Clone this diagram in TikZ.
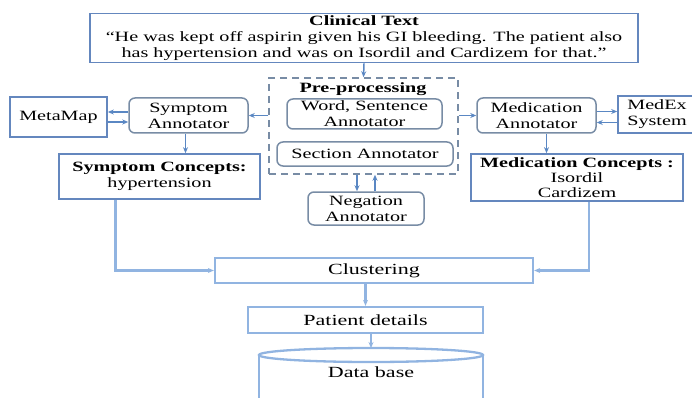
\documentclass[tikz,border=0pt]{standalone}
\usepackage{fontspec}
\setmainfont{Liberation Serif}[FakeStretch=1.42]
\usepackage{xcolor}
\definecolor{steel}{RGB}{100,135,190}
\definecolor{lightsteel}{RGB}{145,180,225}
\definecolor{slate}{RGB}{120,140,165}
\definecolor{arrowblue}{RGB}{90,135,195}
\usepackage{tikz}
\usetikzlibrary{arrows.meta, positioning}

\begin{document}
\begin{tikzpicture}[
    x=1pt, y=-1pt,
    txt/.style={font=\fontsize{14.2}{16.2}\selectfont},
    box/.style={
        rectangle, draw=steel, line width=1.7pt,
        inner sep=0pt, align=center, txt
    },
    rbox/.style={
        rectangle, draw=slate, line width=1.5pt, rounded corners=6pt,
        inner sep=0pt, align=center, txt
    },
    lbox/.style={
        rectangle, draw=lightsteel, line width=2.3pt,
        inner sep=0pt, align=center, font=\fontsize{15.5}{17}\selectfont
    },
    arr/.style={-{Stealth[length=6pt, width=5pt]}, arrowblue, line width=1.5pt},
    larr/.style={-{Stealth[length=6pt, width=5pt]}, lightsteel, line width=2.2pt}
]
\clip (0,0) rectangle (692,398);

% --- Texte clinique ---
\node[box, minimum width=548pt, minimum height=49pt] (clinical) at (364,38)
    {\textbf{Clinical Text}\\``He was kept off aspirin given his GI bleeding. The patient also\\has hypertension and was on Isordil and Cardizem for that.''};

% --- Pre-processing ---
\node[rectangle, draw=slate, line width=1.5pt, dash pattern=on 7pt off 5pt,
      minimum width=189pt, minimum height=96pt] (prep) at (363.5,126) {};
\node[txt, font=\fontsize{14.2}{16}\selectfont\bfseries] (preptitle) at (363,89) {Pre-processing};
\node[rbox, minimum width=155pt, minimum height=30pt] (wordsent) at (364.5,114)
    {Word, Sentence\\Annotator};
\node[rbox, minimum width=176pt, minimum height=24pt] (section) at (365,154)
    {Section Annotator};
\node[rbox, minimum width=116pt, minimum height=33pt] (negation) at (366,208.5)
    {Negation\\Annotator};

% --- Symptômes ---
\node[rbox, minimum width=119pt, minimum height=35pt] (symann) at (188.5,115.5)
    {Symptom\\Annotator};
\node[box, minimum width=97pt, minimum height=40pt] (metamap) at (58.5,117) {MetaMap};
\node[box, minimum width=201pt, minimum height=45pt] (symcon) at (159.5,176.5)
    {\textbf{Symptom Concepts:}\\hypertension};

% --- Médicaments ---
\node[rbox, minimum width=119pt, minimum height=35pt] (medann) at (536.5,115.5)
    {Medication\\Annotator};
\node[box, minimum width=78pt, minimum height=37pt] (medex) at (657,114.5)
    {MedEx\\System};
\node[box, minimum width=212pt, minimum height=47pt, font=\fontsize{14.2}{15}\selectfont]
    (medcon) at (577,177.5)
    {\textbf{Medication Concepts :}\\Isordil\\Cardizem};

% --- Sortie ---
\node[lbox, minimum width=318pt, minimum height=25pt] (cluster) at (374,270.5) {Clustering};
\node[lbox, minimum width=235pt, minimum height=26pt] (patient) at (365.5,320) {Patient details};
\coordinate (dbtop) at (371,348);
\node[font=\fontsize{15.5}{17}\selectfont] (db) at (371,372) {Data base};
\draw[lightsteel, line width=2.3pt] (259,406) -- (259,355)
    (483,355) -- (483,406);
\draw[lightsteel, line width=2.3pt] (371,355) ellipse [x radius=112pt, y radius=7pt];

% connecteurs du haut
\draw[arr] (clinical.south) -- (prep.north);
\draw[arr] (prep.west |- symann.east) -- (symann.east);
\draw[arr] (prep.east |- medann.west) -- (medann.west);
\draw[arr] ([yshift=5pt]metamap.east -| symann.west) -- ([yshift=5pt]metamap.east);
\draw[arr] ([yshift=-5pt]metamap.east) -- ([yshift=-5pt]metamap.east -| symann.west);
\draw[arr] ([yshift=4pt]medann.east) -- ([yshift=4pt]medann.east -| medex.west);
\draw[arr] ([yshift=-7pt]medann.east -| medex.west) -- ([yshift=-7pt]medann.east);
\draw[arr] ([xshift=-3pt]symann.south) -- ([xshift=-3pt]symann.south |- symcon.north);
\draw[arr] ([xshift=10pt]medann.south) -- ([xshift=10pt]medann.south |- medcon.north);
\draw[arr] ([xshift=-9pt]negation.north |- prep.south) -- ([xshift=-9pt]negation.north);
\draw[arr] ([xshift=9pt]negation.north) -- ([xshift=9pt]negation.north |- prep.south);

% connecteurs du bas
\draw[larr] ([xshift=-44pt]symcon.south) |- (cluster.west);
\draw[larr] ([xshift=12pt]medcon.south) |- (cluster.east);
\draw[larr] (patient.north |- cluster.south) -- (patient.north);
\draw[larr] (patient.south -| dbtop) -- (dbtop);

\end{tikzpicture}
\end{document}
